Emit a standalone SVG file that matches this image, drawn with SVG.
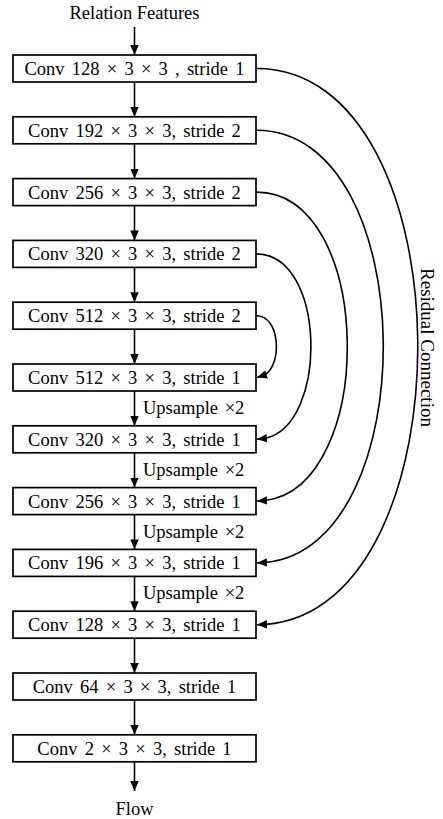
<svg xmlns="http://www.w3.org/2000/svg" width="443" height="819" viewBox="0 0 443 819">
<style>
text{font-family:"Liberation Serif","Times New Roman",serif;font-size:18.5px;fill:#000}
.box rect{fill:#fff;stroke:#000;stroke-width:1.7}
.box text{text-anchor:middle;word-spacing:2.6px}
.c{fill:none;stroke:#000;stroke-width:1.6;marker-end:url(#ah)}
.up{word-spacing:2px}
</style>
<defs>
<marker id="ah" markerUnits="userSpaceOnUse" viewBox="0 0 10 8" markerWidth="10" markerHeight="8.5" refX="10" refY="4" orient="auto" preserveAspectRatio="none">
<path d="M0,0 L10,4 L0,8 Z" fill="#000"/>
</marker>
</defs>
<text id="input" x="134.5" y="18.5" text-anchor="middle">Relation Features</text>
<g id="n1" class="box"><rect x="13" y="55" width="243" height="27"/><text x="134.5" y="75">Conv 128 × 3 × 3 , stride 1</text></g>
<g id="n2" class="box"><rect x="13" y="116.8" width="243" height="27"/><text x="134.5" y="136.8">Conv 192 × 3 × 3, stride 2</text></g>
<g id="n3" class="box"><rect x="13" y="178.6" width="243" height="27"/><text x="134.5" y="198.6">Conv 256 × 3 × 3, stride 2</text></g>
<g id="n4" class="box"><rect x="13" y="240.4" width="243" height="27"/><text x="134.5" y="260.4">Conv 320 × 3 × 3, stride 2</text></g>
<g id="n5" class="box"><rect x="13" y="302.2" width="243" height="27"/><text x="134.5" y="322.2">Conv 512 × 3 × 3, stride 2</text></g>
<g id="n6" class="box"><rect x="13" y="364" width="243" height="27"/><text x="134.5" y="384">Conv 512 × 3 × 3, stride 1</text></g>
<g id="n7" class="box"><rect x="13" y="425.8" width="243" height="27"/><text x="134.5" y="445.8">Conv 320 × 3 × 3, stride 1</text></g>
<g id="n8" class="box"><rect x="13" y="487.6" width="243" height="27"/><text x="134.5" y="507.6">Conv 256 × 3 × 3, stride 1</text></g>
<g id="n9" class="box"><rect x="13" y="549.4" width="243" height="27"/><text x="134.5" y="569.4">Conv 196 × 3 × 3, stride 1</text></g>
<g id="n10" class="box"><rect x="13" y="611.2" width="243" height="27"/><text x="134.5" y="631.2">Conv 128 × 3 × 3, stride 1</text></g>
<g id="n11" class="box"><rect x="13" y="673" width="243" height="27"/><text x="134.5" y="693">Conv 64 × 3 × 3, stride 1</text></g>
<g id="n12" class="box"><rect x="13" y="734.8" width="243" height="27"/><text x="134.5" y="754.8">Conv 2 × 3 × 3, stride 1</text></g>
<text id="output" x="134.5" y="815" text-anchor="middle">Flow</text>
<g id="connectors">
<path class="c" d="M134.5,27 V55"/>
<path class="c" d="M134.5,82 V116.8"/>
<path class="c" d="M134.5,143.8 V178.6"/>
<path class="c" d="M134.5,205.6 V240.4"/>
<path class="c" d="M134.5,267.4 V302.2"/>
<path class="c" d="M134.5,329.2 V364"/>
<path class="c" d="M134.5,391 V425.8"/>
<path class="c" d="M134.5,452.8 V487.6"/>
<path class="c" d="M134.5,514.6 V549.4"/>
<path class="c" d="M134.5,576.4 V611.2"/>
<path class="c" d="M134.5,638.2 V673"/>
<path class="c" d="M134.5,700 V734.8"/>
<path class="c" d="M134.5,761.8 V791"/>
<path class="c" d="M256.5,68.5 C468.5,68.5 471.5,609.1 265.5,624.4 L257,624.7"/>
<path class="c" d="M256.5,130.3 C422.5,130.3 425.5,547.6 265.4,562.5 L257,562.9"/>
<path class="c" d="M256.5,192.1 C374.5,192.1 377.4,485.9 265.4,500.5 L257,501.1"/>
<path class="c" d="M256.5,253.9 C326,253.9 328.9,424.1 265.3,438.4 L257,439.3"/>
<path class="c" d="M256.5,315.7 C279.7,315.7 282.6,363 265.2,374.8 L257,377.5"/>
<text class="up" x="143" y="414">Upsample ×2</text>
<text class="up" x="143" y="475.8">Upsample ×2</text>
<text class="up" x="143" y="537.6">Upsample ×2</text>
<text class="up" x="143" y="599.4">Upsample ×2</text>
<text transform="translate(421,347.5) rotate(90)" text-anchor="middle" style="font-size:19px">Residual Connection</text>
</g>
</svg>
